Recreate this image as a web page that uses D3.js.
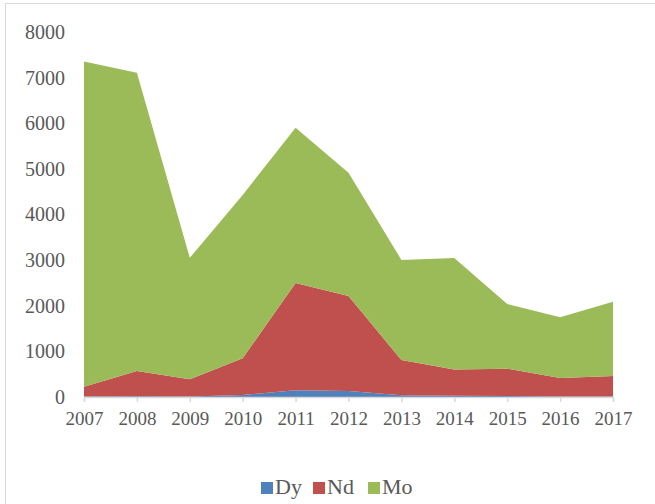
<!DOCTYPE html>
<html>
<head>
<meta charset="utf-8">
<script src="https://cdnjs.cloudflare.com/ajax/libs/d3/7.8.5/d3.min.js"></script>
<style>
  body { margin: 0; background: #fff; }
  text { font-family: "Liberation Serif", "Times New Roman", serif; fill: #595959; }
</style>
</head>
<body>
<div id="chart"></div>
<script>
var years = [2007, 2008, 2009, 2010, 2011, 2012, 2013, 2014, 2015, 2016, 2017];
var dy = [10, 15, 10, 45, 150, 130, 40, 25, 20, 10, 10];
var nd = [215, 555, 380, 805, 2350, 2085, 770, 580, 600, 405, 450];
var mo = [7130, 6535, 2660, 3580, 3400, 2700, 2195, 2440, 1420, 1335, 1625];
var seriesNames = ["Dy", "Nd", "Mo"];
var seriesColors = ["#4f81bd", "#c0504d", "#9bbb59"];
var yTicks = [0, 1000, 2000, 3000, 4000, 5000, 6000, 7000, 8000];

var width = 655, height = 504;
var margin = {top: 32, right: 42, bottom: 107, left: 84};

var svg = d3.select("#chart").append("svg")
    .attr("width", width)
    .attr("height", height);

// outer chart border
svg.append("rect")
    .attr("x", 5.5).attr("y", 3.5)
    .attr("width", 670).attr("height", 520)
    .attr("fill", "none")
    .attr("stroke", "#d9d9d9");

var table = years.map(function(y, i) {
  return {year: y, Dy: dy[i], Nd: nd[i], Mo: mo[i]};
});

var x = d3.scaleLinear()
    .domain(d3.extent(years))
    .range([margin.left, width - margin.right]);
var y = d3.scaleLinear()
    .domain([0, 8000])
    .range([height - margin.bottom, margin.top]);

var stack = d3.stack().keys(seriesNames);
var layers = stack(table);

var area = d3.area()
    .x(function(d) { return x(d.data.year); })
    .y0(function(d) { return y(d[0]); })
    .y1(function(d) { return y(d[1]); });

svg.selectAll(".layer")
    .data(layers)
  .enter().append("path")
    .attr("class", "layer")
    .attr("d", area)
    .attr("fill", function(d, i) { return seriesColors[i]; });

// x axis
var xAxis = svg.append("g")
    .attr("transform", "translate(0," + y(0) + ")")
    .call(d3.axisBottom(x).tickValues(years).tickFormat(d3.format("d")).tickSizeOuter(0).tickSize(5));
xAxis.attr("font-family", null);
xAxis.select(".domain").attr("stroke", "#d9d9d9").attr("stroke-width", 1.5);
xAxis.selectAll(".tick line").attr("stroke", "#d9d9d9").attr("stroke-width", 1.5);
xAxis.selectAll(".tick text")
    .attr("y", 15)
    .attr("dy", "0.71em")
    .style("font-size", "19px")
    .attr("fill", "#595959");

// y axis labels only
var yAxis = svg.append("g")
    .attr("transform", "translate(" + (margin.left - 19) + ",0)")
    .call(d3.axisLeft(y).tickValues(yTicks).tickFormat(d3.format("d")).tickSize(0).tickPadding(0));
yAxis.attr("font-family", null);
yAxis.select(".domain").remove();
yAxis.selectAll(".tick text")
    .style("font-size", "20px")
    .attr("fill", "#595959");

// legend
var legendX = [261, 313, 368];
var legend = svg.selectAll(".legend")
    .data(seriesNames)
  .enter().append("g")
    .attr("class", "legend")
    .attr("transform", function(d, i) { return "translate(" + legendX[i] + ",482)"; });
legend.append("rect")
    .attr("width", 12).attr("height", 12)
    .attr("fill", function(d, i) { return seriesColors[i]; });
legend.append("text")
    .attr("x", 14).attr("y", 11.5)
    .style("font-size", "22px")
    .text(function(d) { return d; });
</script>
</body>
</html>
